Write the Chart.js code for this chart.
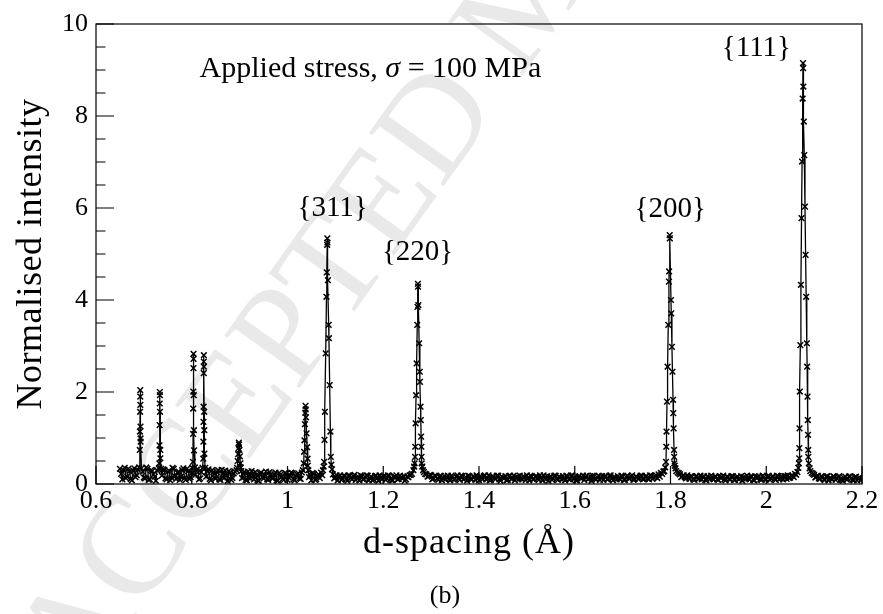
<!DOCTYPE html>
<html>
<head>
<meta charset="utf-8">
<script src="https://cdn.jsdelivr.net/npm/chart.js@4.4.0/dist/chart.umd.min.js"></script>
<style>
  html, body { margin: 0; padding: 0; background: #fff; }
  #wrap { width: 883px; height: 614px; }
</style>
</head>
<body>
<div id="wrap"><canvas id="spectrum" width="883" height="614"></canvas></div>
<script>
// background counts between the peaks, d-spacing in Angstrom
const bgD = [
  0.650,0.655,0.660,0.665,0.670,0.675,0.680,0.685,
  0.700,0.705,0.710,0.715,0.720,0.725,
  0.740,0.745,0.750,0.755,0.760,0.765,0.770,0.775,0.780,0.785,0.790,0.795,0.800,
  0.810,0.815,0.820,
  0.830,0.835,0.840,0.845,0.850,0.855,0.860,0.865,0.870,0.875,0.880,0.885,0.890,
  0.905,0.910,0.915,0.920,0.925,0.930,0.935,0.940,0.945,0.950,0.955,0.960,0.965,
  0.970,0.975,0.980,0.985,0.990,0.995,1.000,1.005,1.010,1.015,1.020,1.025,1.030,
  1.045,1.050,1.055,1.060,1.065,1.070,
  1.095,1.100,1.105,1.110,1.115,1.120,1.125,1.130,1.135,1.140,1.145,1.150,1.155,1.160,
  1.165,1.170,1.175,1.180,1.185,1.190,1.195,1.200,1.205,1.210,1.215,1.220,1.225,1.230,
  1.235,1.240,1.245,1.250,1.255,1.260,
  1.285,1.290,1.295,1.300,1.305,1.310,1.315,1.320,1.325,1.330,
  1.335,1.340,1.345,1.350,1.355,1.360,1.365,1.370,1.375,1.380,
  1.385,1.390,1.395,1.400,1.405,1.410,1.415,1.420,1.425,1.430,
  1.435,1.440,1.445,1.450,1.455,1.460,1.465,1.470,1.475,1.480,
  1.485,1.490,1.495,1.500,1.505,1.510,1.515,1.520,1.525,1.530,
  1.535,1.540,1.545,1.550,1.555,1.560,1.565,1.570,1.575,1.580,
  1.585,1.590,1.595,1.600,1.605,1.610,1.615,1.620,1.625,1.630,
  1.635,1.640,1.645,1.650,1.655,1.660,1.665,1.670,1.675,1.680,
  1.685,1.690,1.695,1.700,1.705,1.710,1.715,1.720,1.725,1.730,
  1.735,1.740,1.745,1.750,1.755,1.760,1.765,1.770,1.775,1.780,
  1.785,
  1.815,1.820,1.825,1.830,1.835,1.840,1.845,1.850,1.855,1.860,
  1.865,1.870,1.875,1.880,1.885,1.890,1.895,1.900,1.905,1.910,
  1.915,1.920,1.925,1.930,1.935,1.940,1.945,1.950,1.955,1.960,
  1.965,1.970,1.975,1.980,1.985,1.990,1.995,2.000,2.005,2.010,
  2.015,2.020,2.025,2.030,2.035,2.040,2.045,2.050,2.055,2.060,
  2.065,
  2.095,2.100,2.105,2.110,2.115,2.120,2.125,2.130,2.135,2.140,2.145,
  2.150,2.155,2.160,2.165,2.170,2.175,2.180,2.185,2.190,2.195,2.200
];
const bgI = [
  0.33,0.10,0.35,0.16,0.28,0.08,0.34,0.19,
  0.14,0.36,0.09,0.30,0.21,0.07,
  0.32,0.12,0.27,0.08,0.35,0.17,0.25,0.09,0.30,0.13,0.33,0.11,0.24,
  0.31,0.10,0.26,
  0.16,0.32,0.08,0.25,0.12,0.30,0.09,0.22,0.29,0.07,0.24,0.13,0.27,
  0.13,0.26,0.08,0.21,0.28,0.10,0.20,0.07,0.25,0.12,0.27,0.09,0.21,
  0.13,0.25,0.07,0.20,0.11,0.24,0.09,0.19,0.23,0.08,0.21,0.12,0.25,
  0.15,0.08,0.22,0.10,0.21,0.25,
  0.21,0.15,0.08,0.19,0.11,0.17,0.07,0.18,0.10,0.20,0.12,0.08,0.17,0.11,
  0.19,0.08,0.16,0.10,0.18,0.07,0.14,0.17,0.09,0.19,0.11,0.08,0.16,0.10,
  0.18,0.12,0.07,0.16,0.19,0.22,
  0.26,0.21,0.17,0.19,0.12,0.17,0.09,0.18,0.13,0.10,
  0.18,0.08,0.15,0.11,0.19,0.09,0.17,0.12,0.07,0.17,
  0.10,0.15,0.19,0.08,0.14,0.17,0.10,0.19,0.09,0.16,
  0.11,0.18,0.07,0.14,0.17,0.09,0.18,0.12,0.08,0.16,
  0.18,0.10,0.14,0.19,0.08,0.16,0.11,0.17,0.09,0.14,
  0.19,0.10,0.07,0.16,0.12,0.18,0.09,0.14,0.17,0.08,
  0.16,0.10,0.19,0.12,0.08,0.17,0.13,0.09,0.18,0.12,
  0.07,0.16,0.10,0.18,0.13,0.09,0.17,0.11,0.19,0.08,
  0.14,0.17,0.10,0.16,0.09,0.18,0.12,0.19,0.10,0.15,
  0.13,0.18,0.11,0.17,0.10,0.18,0.14,0.19,0.21,0.24,
  0.27,
  0.25,0.21,0.17,0.15,0.19,0.11,0.16,0.09,0.17,0.12,
  0.10,0.17,0.08,0.14,0.18,0.10,0.16,0.09,0.13,0.18,
  0.08,0.15,0.10,0.17,0.09,0.16,0.12,0.07,0.14,0.18,
  0.10,0.16,0.08,0.13,0.17,0.09,0.15,0.10,0.18,0.12,
  0.16,0.09,0.17,0.13,0.10,0.17,0.19,0.14,0.18,0.22,
  0.26,
  0.24,0.20,0.16,0.12,0.17,0.10,0.16,0.08,0.13,0.17,0.09,
  0.15,0.10,0.07,0.16,0.11,0.17,0.09,0.15,0.08,0.14,0.11
];

// second set of background bins, half a bin further on
const bgD2 = [
  0.6525,0.6575,0.6625,0.6675,0.6725,0.6775,0.6825,0.6875,
  0.6975,0.7025,0.7075,0.7125,0.7175,0.7225,0.7275,
  0.7375,0.7425,0.7475,0.7525,0.7575,0.7625,0.7675,0.7725,0.7775,0.7825,0.7875,0.7925,0.7975,
  0.8075,0.8125,0.8175,
  0.8325,0.8375,0.8425,0.8475,0.8525,0.8575,0.8625,0.8675,0.8725,0.8775,0.8825,0.8875,
  0.9075,0.9125,0.9175,0.9225,0.9275,0.9325,0.9375,0.9425,0.9475,0.9525,0.9575,0.9625,
  0.9675,0.9725,0.9775,0.9825,0.9875,0.9925,0.9975,1.0025,1.0075,1.0125,1.0175,1.0225,1.0275,
  1.0475,1.0525,1.0575,1.0625,1.0675,1.0725,
  1.0975,1.1025,1.1075,1.1125,1.1175,1.1225,1.1275,1.1325,1.1375,1.1425,1.1475,
  1.1525,1.1575,1.1625,1.1675,1.1725,1.1775,1.1825,1.1875,1.1925,1.1975,1.2025,
  1.2075,1.2125,1.2175,1.2225,1.2275,1.2325,1.2375,1.2425,1.2475,1.2525,1.2575,
  1.2875,1.2925,1.2975,1.3025,1.3075,1.3125,1.3175,1.3225,1.3275,1.3325,
  1.3375,1.3425,1.3475,1.3525,1.3575,1.3625,1.3675,1.3725,1.3775,1.3825,
  1.3875,1.3925,1.3975,1.4025,1.4075,1.4125,1.4175,1.4225,1.4275,1.4325,
  1.4375,1.4425,1.4475,1.4525,1.4575,1.4625,1.4675,1.4725,1.4775,1.4825,
  1.4875,1.4925,1.4975,1.5025,1.5075,1.5125,1.5175,1.5225,1.5275,1.5325,
  1.5375,1.5425,1.5475,1.5525,1.5575,1.5625,1.5675,1.5725,1.5775,1.5825,
  1.5875,1.5925,1.5975,1.6025,1.6075,1.6125,1.6175,1.6225,1.6275,1.6325,
  1.6375,1.6425,1.6475,1.6525,1.6575,1.6625,1.6675,1.6725,1.6775,1.6825,
  1.6875,1.6925,1.6975,1.7025,1.7075,1.7125,1.7175,1.7225,1.7275,1.7325,
  1.7375,1.7425,1.7475,1.7525,1.7575,1.7625,1.7675,1.7725,1.7775,1.7825,
  1.8175,1.8225,1.8275,1.8325,1.8375,1.8425,1.8475,1.8525,1.8575,1.8625,
  1.8675,1.8725,1.8775,1.8825,1.8875,1.8925,1.8975,1.9025,1.9075,1.9125,
  1.9175,1.9225,1.9275,1.9325,1.9375,1.9425,1.9475,1.9525,1.9575,1.9625,
  1.9675,1.9725,1.9775,1.9825,1.9875,1.9925,1.9975,2.0025,2.0075,2.0125,
  2.0175,2.0225,2.0275,2.0325,2.0375,2.0425,2.0475,2.0525,2.0575,2.0625,
  2.0975,2.1025,2.1075,2.1125,2.1175,2.1225,2.1275,2.1325,2.1375,2.1425,2.1475,
  2.1525,2.1575,2.1625,2.1675,2.1725,2.1775,2.1825,2.1875,2.1925,2.1975
];
const bgI2 = [
  0.22,0.30,0.13,0.33,0.11,0.29,0.15,0.31,
  0.27,0.12,0.33,0.10,0.28,0.16,0.30,
  0.18,0.31,0.10,0.29,0.14,0.33,0.11,0.27,0.16,0.34,0.09,0.28,0.15,
  0.20,0.32,0.12,
  0.28,0.11,0.30,0.14,0.26,0.10,0.31,0.13,0.19,0.28,0.09,0.23,
  0.22,0.09,0.27,0.12,0.19,0.26,0.08,0.23,0.15,0.20,0.10,0.26,
  0.13,0.21,0.08,0.24,0.16,0.09,0.22,0.14,0.25,0.10,0.18,0.23,0.11,
  0.20,0.24,0.09,0.18,0.13,0.19,
  0.12,0.19,0.16,0.09,0.18,0.11,0.19,0.13,0.17,0.09,0.16,
  0.19,0.10,0.15,0.18,0.12,0.08,0.17,0.13,0.19,0.10,0.16,
  0.12,0.18,0.08,0.15,0.19,0.11,0.14,0.17,0.10,0.15,0.20,
  0.22,0.16,0.20,0.10,0.18,0.12,0.16,0.08,0.17,0.14,
  0.11,0.18,0.09,0.16,0.12,0.18,0.10,0.15,0.18,0.11,
  0.17,0.09,0.13,0.17,0.10,0.19,0.12,0.08,0.16,0.13,
  0.18,0.10,0.16,0.12,0.08,0.17,0.11,0.18,0.14,0.10,
  0.12,0.17,0.09,0.13,0.18,0.10,0.16,0.12,0.19,0.08,
  0.13,0.17,0.15,0.09,0.18,0.11,0.16,0.10,0.12,0.18,
  0.10,0.18,0.13,0.08,0.16,0.12,0.18,0.15,0.10,0.17,
  0.18,0.11,0.14,0.09,0.17,0.16,0.10,0.18,0.12,0.15,
  0.10,0.12,0.18,0.09,0.15,0.12,0.17,0.09,0.16,0.11,
  0.18,0.10,0.16,0.12,0.19,0.11,0.17,0.13,0.16,0.22,
  0.23,0.15,0.19,0.12,0.14,0.17,0.10,0.16,0.11,0.18,
  0.15,0.09,0.17,0.11,0.12,0.16,0.10,0.17,0.15,0.10,
  0.16,0.11,0.17,0.09,0.14,0.10,0.17,0.15,0.11,0.12,
  0.17,0.09,0.16,0.15,0.10,0.18,0.11,0.16,0.09,0.16,
  0.11,0.18,0.10,0.16,0.17,0.11,0.13,0.18,0.15,0.20,
  0.22,0.14,0.18,0.11,0.15,0.09,0.17,0.12,0.10,0.15,0.12,
  0.17,0.09,0.13,0.10,0.16,0.12,0.08,0.16,0.12,0.09
];

// points on the reflections, one row per peak
const peakD = [
  0.6900,0.6915,0.6918,0.6921,0.6924,0.6925,0.6926,0.6929,0.6931,0.6932,0.6950,
  0.7310,0.7323,0.7326,0.7329,0.7332,0.7334,0.7335,0.7337,0.7343,0.7344,0.7360,
  0.8010,0.8025,0.8028,0.8031,0.8033,0.8035,0.8037,0.8038,0.8042,0.8046,0.8048,0.8065,
  0.8225,0.8241,0.8243,0.8245,0.8247,0.8251,0.8252,0.8253,0.8254,0.8260,0.8262,0.8264,0.8280,
  0.8935,0.8948,0.8958,0.8968,0.8976,0.8984,0.8987,0.8996,0.9006,0.9017,0.9024,0.9035,
  1.0320,1.0339,1.0346,1.0354,1.0365,1.0372,1.0377,1.0380,1.0386,1.0399,1.0410,1.0420,1.0425,1.0435,
  1.0740,1.0755,1.0766,1.0773,1.0781,1.0798,1.0814,1.0821,1.0829,1.0831,1.0834,1.0845,1.0860,1.0865,
  1.0881,1.0896,1.0905,1.0915,1.0930,
  1.2630,1.2645,1.2655,1.2664,1.2668,1.2676,1.2686,1.2697,1.2710,1.2716,1.2724,1.2727,1.2733,1.2750,
  1.2763,1.2767,1.2778,1.2784,1.2791,1.2796,1.2800,1.2803,1.2815,1.2830,
  1.7870,1.7890,1.7906,1.7912,1.7917,1.7927,1.7939,1.7953,1.7967,1.7971,1.7983,1.7986,1.8010,1.8016,
  1.8030,1.8041,1.8053,1.8058,1.8065,1.8074,1.8077,1.8079,1.8090,1.8105,1.8120,
  2.0670,2.0680,2.0689,2.0691,2.0695,2.0702,2.0712,2.0724,2.0737,2.0748,2.0761,2.0768,2.0771,2.0775,
  2.0785,2.0794,2.0809,2.0822,2.0834,2.0847,2.0854,2.0862,2.0869,2.0873,2.0877,2.0879,2.0890,2.0905,2.0920
];
const peakI = [
  0.36,0.74,1.14,1.57,2.04,1.90,1.72,1.25,0.99,0.92,0.34,
  0.34,0.45,0.84,1.28,1.75,2.00,1.93,1.57,0.74,0.56,0.33,
  0.35,0.48,1.09,1.64,2.01,2.52,2.83,2.72,1.93,1.17,0.73,0.36,
  0.35,0.55,0.92,1.35,1.68,2.41,2.66,2.80,2.55,1.57,1.17,0.66,0.35,
  0.30,0.35,0.50,0.65,0.78,0.90,0.86,0.74,0.60,0.45,0.36,0.28,
  0.30,0.45,0.70,0.95,1.30,1.55,1.70,1.62,1.45,1.10,0.80,0.55,0.40,0.30,
  0.30,0.38,0.48,0.96,1.57,2.84,4.07,4.60,5.20,5.34,5.25,4.43,3.46,3.17,
  2.15,1.14,0.59,0.42,0.32,
  0.30,0.38,0.45,0.59,0.81,1.32,1.93,2.62,3.46,3.85,4.35,4.29,3.89,3.06,
  2.44,2.22,1.68,1.39,1.03,0.81,0.59,0.45,0.38,0.30,
  0.28,0.36,0.48,0.81,1.14,1.79,2.55,3.46,4.40,4.62,5.41,5.34,4.00,3.71,
  2.98,2.44,1.83,1.54,1.21,0.74,0.59,0.45,0.40,0.34,0.28,
  0.35,0.45,0.56,0.78,1.21,2.01,3.02,4.33,5.78,7.01,8.38,9.15,9.04,8.64,
  7.88,7.15,6.03,4.98,4.07,3.06,2.55,1.90,1.39,1.07,0.74,0.59,0.45,0.34,0.28
];

const planeLabels = ['{111}', '{311}', '{220}', '{200}'];
const labelD = [1.9795, 1.0942, 1.2717, 1.7993];
const labelI = [9.48, 6.00, 5.04, 5.98];

const xTicks = [0.6, 0.8, 1.0, 1.2, 1.4, 1.6, 1.8, 2.0, 2.2];
const yTicks = [0, 2, 4, 6, 8, 10];
const yMinorTicks = [0.5, 1, 1.5, 2.5, 3, 3.5, 4.5, 5, 5.5, 6.5, 7, 7.5, 8.5, 9, 9.5];

const serif = "'Liberation Serif', 'Times New Roman', serif";

const toPoints = (ds, is) => ds.map((d, i) => ({x: d, y: is[i]}));
const points = toPoints(bgD, bgI)
  .concat(toPoints(bgD2, bgI2), toPoints(peakD, peakI))
  .sort((a, b) => a.x - b.x);

const watermark = {
  id: 'watermark',
  beforeDraw(chart) {
    const ctx = chart.ctx;
    ctx.save();
    ctx.translate(80, 696);
    ctx.rotate(-54.5 * Math.PI / 180);
    ctx.font = '140px ' + serif;
    ctx.fillStyle = '#e9e9e9';
    ctx.fillText('ACCEPTED MANUSCRIPT', 0, 0);
    ctx.restore();
  }
};

const frame = {
  id: 'frame',
  afterDraw(chart) {
    const {ctx, chartArea: {left, top, right, bottom}, scales: {x, y}} = chart;
    ctx.save();
    ctx.strokeStyle = '#000';
    ctx.lineWidth = 1.2;
    ctx.strokeRect(left, top, right - left, bottom - top);
    ctx.beginPath();
    xTicks.forEach(v => {
      const px = x.getPixelForValue(v);
      ctx.moveTo(px, bottom);
      ctx.lineTo(px, bottom - 18);
    });
    yTicks.forEach(v => {
      const py = y.getPixelForValue(v);
      ctx.moveTo(left, py);
      ctx.lineTo(left + 18, py);
    });
    yMinorTicks.forEach(v => {
      const py = y.getPixelForValue(v);
      ctx.moveTo(left, py);
      ctx.lineTo(left + 9.5, py);
    });
    ctx.stroke();

    ctx.fillStyle = '#000';
    ctx.textAlign = 'center';
    ctx.textBaseline = 'middle';
    ctx.font = '29px ' + serif;
    planeLabels.forEach((t, i) => {
      ctx.fillText(t, x.getPixelForValue(labelD[i]), y.getPixelForValue(labelI[i]));
    });

    // "Applied stress, sigma = 100 MPa" with an italic sigma
    ctx.textAlign = 'left';
    let tx = x.getPixelForValue(0.8163);
    const ty = y.getPixelForValue(9.02);
    const parts = [['Applied stress, ', ''], ['σ', 'italic '], [' = 100 MPa', '']];
    parts.forEach(([s, style]) => {
      ctx.font = style + '30px ' + serif;
      ctx.fillText(s, tx, ty);
      tx += ctx.measureText(s).width;
    });

    // axis titles
    ctx.textBaseline = 'alphabetic';
    ctx.textAlign = 'center';
    ctx.font = '36px ' + serif;
    ctx.letterSpacing = '1px';
    ctx.fillText('d-spacing (Å)', 469, 553);
    ctx.save();
    ctx.translate(41, 254);
    ctx.rotate(-Math.PI / 2);
    ctx.letterSpacing = '0.5px';
    ctx.fillText('Normalised intensity', 0, 0);
    ctx.restore();
    ctx.letterSpacing = '0px';
    ctx.font = '26px ' + serif;
    ctx.fillText('(b)', 445, 603);
    ctx.restore();
  }
};

new Chart(document.getElementById('spectrum'), {
  type: 'scatter',
  data: {
    datasets: [{
      data: points,
      showLine: true,
      borderColor: '#000',
      borderWidth: 1.3,
      pointStyle: 'crossRot',
      pointRadius: 4,
      pointBorderWidth: 1.5,
      pointBorderColor: '#000',
      pointBackgroundColor: '#000',
      tension: 0
    }]
  },
  options: {
    responsive: false,
    animation: false,
    events: [],
    layout: {padding: {top: 24, right: 21, left: 0, bottom: 0}},
    plugins: {legend: {display: false}, tooltip: {enabled: false}},
    scales: {
      x: {
        type: 'linear',
        min: 0.6,
        max: 2.2,
        grid: {display: false, drawTicks: false},
        border: {display: false},
        afterBuildTicks: s => { s.ticks = xTicks.map(v => ({value: v})); },
        afterFit: s => { s.height = 130; },
        ticks: {
          callback: v => String(+v.toFixed(1)),
          font: {family: serif, size: 26},
          color: '#000',
          padding: 2,
          maxRotation: 0,
          autoSkip: false
        }
      },
      y: {
        min: 0,
        max: 10,
        grid: {display: false, drawTicks: false},
        border: {display: false},
        afterBuildTicks: s => { s.ticks = yTicks.map(v => ({value: v})); },
        afterFit: s => { s.width = 96; },
        ticks: {
          callback: v => String(v),
          font: {family: serif, size: 26},
          color: '#000',
          padding: 8
        }
      }
    }
  },
  plugins: [watermark, frame]
});
</script>
</body>
</html>
